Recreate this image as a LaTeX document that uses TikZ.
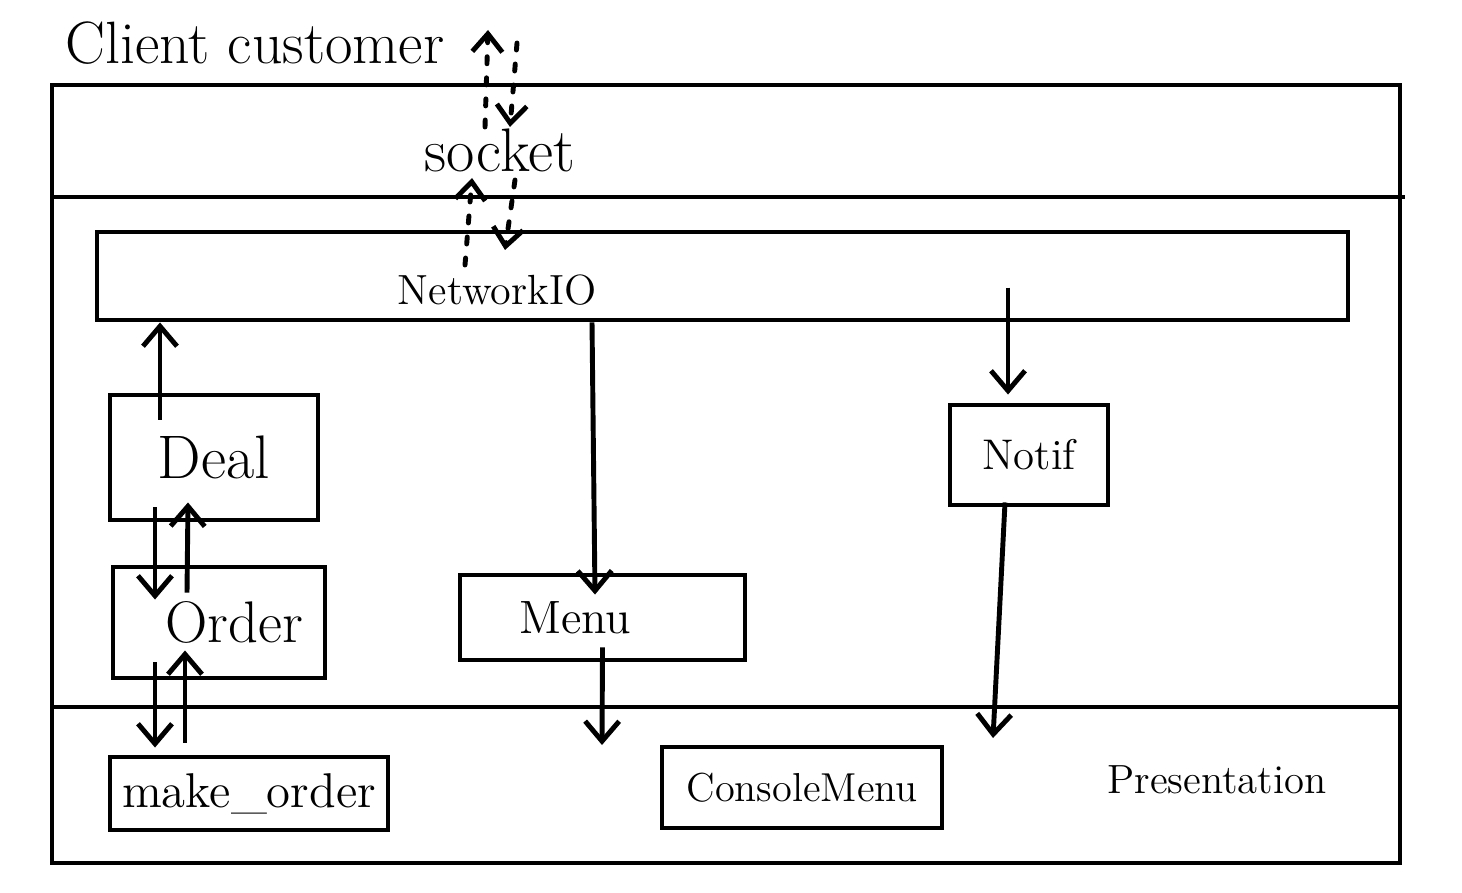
\documentclass[tikz,border=0pt]{standalone}
\usetikzlibrary{arrows.meta}
\tikzset{box/.style={rectangle,draw,line width=1.4pt,inner sep=0pt},
  line/.style={line width=1.4pt,-{Straight Barb[length=2mm,width=3.4mm]}},
  dotline/.style={line width=1.4pt,line cap=round,dash pattern=on 2pt off 4pt,-{Straight Barb[length=1.8mm,width=3mm]}},
  layer/.style={line width=1.4pt}}

\begin{document}
\begin{tikzpicture}
\useasboundingbox (0,0) rectangle (14.62,8.92);
% layers
\draw[layer] (0.52,0.29) rectangle (14.00,8.07);
\draw[layer] (0.52,6.95) -- (14.05,6.95);
\draw[layer] (0.52,1.85) -- (14.00,1.85);

\node[font=\fontsize{17}{20}\selectfont] (client) at (2.55,8.49) {Client customer};
\node[font=\fontsize{17.5}{20}\selectfont] (sock) at (5.0,7.42) {socket};
\node[box,minimum width=12.51cm,minimum height=0.88cm] (nio) at (7.225,6.16) {};
\node[font=\fontsize{12}{14}\selectfont] (niotxt) at (4.97,6.02) {NetworkIO};
\node[box,minimum width=2.08cm,minimum height=1.25cm,font=\fontsize{17.5}{20}\selectfont] (deal) at (2.14,4.345) {Deal};
\node[box,minimum width=2.12cm,minimum height=1.11cm,font=\fontsize{16.7}{20}\selectfont] (order) at (2.19,2.695) {\hspace*{0.3cm}Order};
\node[box,minimum width=2.85cm,minimum height=0.85cm,font=\fontsize{13.3}{16}\selectfont] (menu) at (6.025,2.745) {Menu\hspace*{0.55cm}};
\node[box,minimum width=1.58cm,minimum height=1.0cm,font=\fontsize{12.2}{14}\selectfont] (notif) at (10.29,4.37) {Notif};
\node[box,minimum width=2.78cm,minimum height=0.73cm,font=\fontsize{13.9}{16}\selectfont] (mko) at (2.49,0.985) {make\_order};
\node[box,minimum width=2.80cm,minimum height=0.81cm,font=\fontsize{11.5}{14}\selectfont] (cmenu) at (8.02,1.045) {ConsoleMenu};
\node[font=\fontsize{11.6}{14}\selectfont] (pres) at (12.17,1.12) {Presentation};

\coordinate (cliout) at (4.88,8.62);
\coordinate (cliin) at (5.17,8.49);
\coordinate (menuout) at (6.02,1.47);
\coordinate (notifout) at (9.93,1.54);

% socket traffic
\draw[dotline] ([shift={(-0.32,0.25)}]niotxt.center) -- ([shift={(-0.28,-0.28)}]sock.center);
\draw[dotline] ([shift={(-0.15,0.23)}]sock.center) -- (cliout);
\draw[dotline] (cliin) -- ([shift={(0.10,0.23)}]sock.center);
\draw[dotline] ([shift={(0.15,-0.30)}]sock.center) -- ([shift={(0.08,0.40)}]niotxt.center);

\draw[line] ([shift={(-0.54,0.375)}]deal.center) -- ([xshift=-0.54cm]deal.center |- nio.south);
\draw[line] ([shift={(-0.59,0.15)}]deal.south) -- ([shift={(-0.64,-0.35)}]order.north);
\draw[line] ([shift={(-0.32,-0.28)}]order.north) -- ([shift={(-0.26,0.20)}]deal.south);
\draw[line] ([shift={(-0.64,0.18)}]order.south) -- ([shift={(-0.94,0.07)}]mko.north);
\draw[line] ([shift={(-0.64,0.12)}]mko.north) -- ([shift={(-0.34,0.30)}]order.south);
\draw[line] ([xshift=-0.105cm]menu.north |- nio.south) -- ([shift={(-0.075,-0.22)}]menu.north);
\draw[line] ([shift={(0,0.15)}]menu.south) -- (menuout);
\draw[line] ([shift={(-0.21,1.15)}]notif.north) -- ([shift={(-0.21,0.08)}]notif.north);
\draw[line] ([shift={(-0.24,0.05)}]notif.south) -- (notifout);
\end{tikzpicture}
\end{document}
